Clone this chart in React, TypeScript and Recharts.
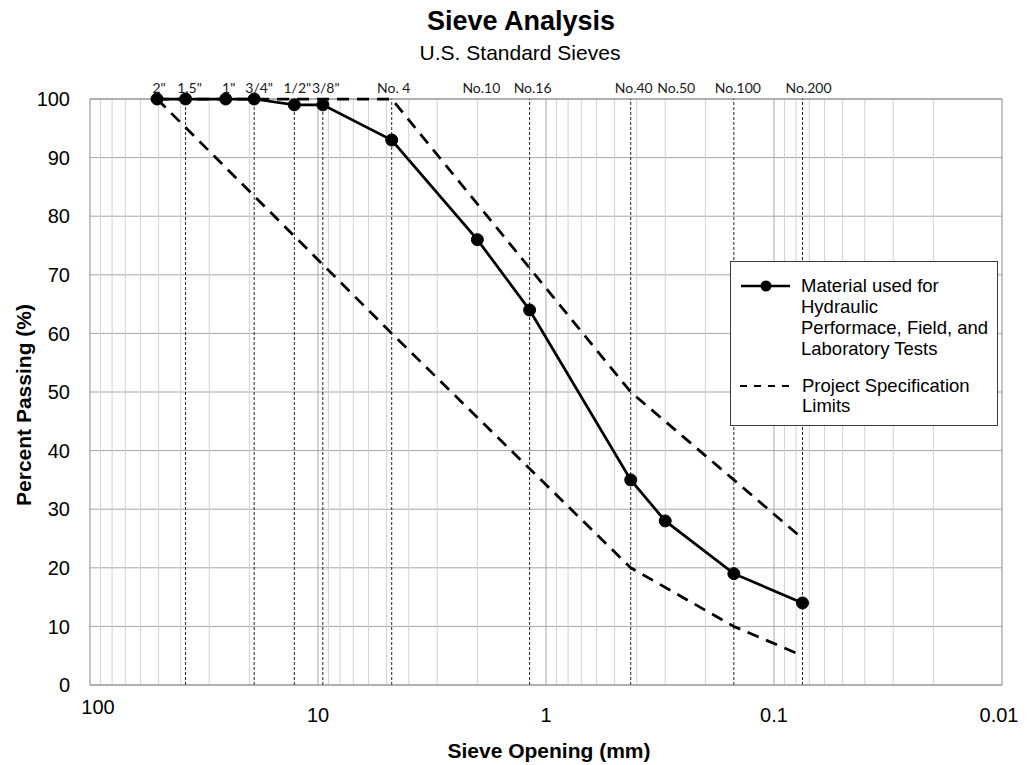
import React from 'react';
import { LineChart, Line, XAxis, YAxis, CartesianGrid, ReferenceLine } from 'recharts';

const SIEVE_NAMES = ['2"', '1.5"', '1"', '3/4"', '1/2"', '3/8"', 'No. 4', 'No.10', 'No.16', 'No.40', 'No.50', 'No.100', 'No.200'];
const SIEVE_SIZES_MM = [50.8, 38.1, 25.4, 19.05, 12.7, 9.525, 4.75, 2.0, 1.18, 0.425, 0.3, 0.15, 0.075];
const MATERIAL_PASSING = [100, 100, 100, 100, 99, 99, 93, 76, 64, 35, 28, 19, 14];
const SPEC_UPPER: (number | null)[] = [100, null, null, null, null, null, 100, null, null, 50, null, 35, 25];
const SPEC_LOWER: (number | null)[] = [100, null, null, null, null, null, 60, null, null, 20, null, 10, 5];
const SIEVES_WITH_LINES = ['1.5"', '3/4"', '1/2"', '3/8"', 'No. 4', 'No.16', 'No.40', 'No.100', 'No.200'];

const X_TICKS = [100, 10, 1, 0.1, 0.01];
const Y_TICKS = [0, 10, 20, 30, 40, 50, 60, 70, 80, 90, 100];
const GRID_MAJOR = [10, 1, 0.1];
const GRID_DECADES = [10, 1, 0.1, 0.01];
const GRID_MULTIPLIERS = [2, 3, 4, 5, 6, 7, 8, 9];

const MATERIAL_LABEL = ['Material used for', 'Hydraulic', 'Performace, Field, and', 'Laboratory Tests'];
const SPEC_LABEL = ['Project Specification', 'Limits'];

const data = SIEVE_SIZES_MM.map((size, i) => ({
  size,
  name: SIEVE_NAMES[i],
  material: MATERIAL_PASSING[i],
  upper: SPEC_UPPER[i],
  lower: SPEC_LOWER[i],
}));

const minorGrid: number[] = [];
GRID_DECADES.forEach((d) => GRID_MULTIPLIERS.forEach((m) => minorGrid.push(+(d * m).toPrecision(3))));

const LABEL_DX: Record<string, number> = {
  '2"': 2, '1.5"': 4, '1"': 3, '3/4"': 5, '1/2"': 3, '3/8"': 3, 'No. 4': 2,
  'No.10': 4, 'No.16': 3, 'No.40': 3, 'No.50': 11, 'No.100': 4, 'No.200': 6,
};

const ARIAL = '"Liberation Sans", Arial, sans-serif';

const XTick = (props: any) => {
  const { x, y, payload } = props;
  const v = payload.value;
  const dx = v === 100 ? 8 : v === 0.01 ? -3 : 0;
  const dy = v === 100 ? -8 : 0;
  return (
    <text x={x + dx} y={y + dy} dy="0.71em" textAnchor="middle" fontFamily={ARIAL} fontSize={20} fill="#000">
      {String(v)}
    </text>
  );
};

const LegendBox = () => (
  <svg width={268} height={165} style={{ display: 'block' }}>
    <rect x={0.5} y={0.5} width={267} height={164} fill="#fff" stroke="#3a3a3a" strokeWidth={1} />
    <line x1={11} y1={25} x2={60} y2={25} stroke="#000" strokeWidth={2.5} />
    <circle cx={36} cy={25} r={5.5} fill="#000" />
    {MATERIAL_LABEL.map((t, i) => (
      <text key={t} x={71} y={30.5 + i * 21} fontFamily={ARIAL} fontSize={18.5} fill="#000">{t}</text>
    ))}
    <line x1={10} y1={125} x2={60} y2={125} stroke="#000" strokeWidth={2} strokeDasharray="7 7" />
    {SPEC_LABEL.map((t, i) => (
      <text key={t} x={72} y={130.5 + i * 20} fontFamily={ARIAL} fontSize={18.5} fill="#000">{t}</text>
    ))}
  </svg>
);

export default function App() {
  return (
    <div style={{ position: 'absolute', left: 0, top: 0, width: 1031, height: 765, background: '#fff' }}>
      <LineChart width={1031} height={765} data={data} margin={{ top: 99, right: 29, bottom: 0, left: 0 }}>
        <text x={521} y={29.5} textAnchor="middle" fontFamily={ARIAL} fontWeight="bold" fontSize={27} fill="#000">Sieve Analysis</text>
        <text x={520} y={60} textAnchor="middle" fontFamily={ARIAL} fontSize={21} fill="#000">U.S. Standard Sieves</text>
        <CartesianGrid horizontal vertical={false} stroke="#a6a6a6" strokeWidth={1} />
        {minorGrid.map((v) => (
          <ReferenceLine key={'m' + v} x={v} stroke="#d2d2d2" strokeWidth={1} />
        ))}
        {GRID_MAJOR.map((v) => (
          <ReferenceLine key={'M' + v} x={v} stroke="#a6a6a6" strokeWidth={1} />
        ))}
        <ReferenceLine x={0.01} stroke="#8c8c8c" strokeWidth={1} />
        <ReferenceLine y={100} stroke="#8c8c8c" strokeWidth={1} />
        {data.map((d) => (
          <ReferenceLine
            key={'s' + d.name}
            x={d.size}
            stroke={SIEVES_WITH_LINES.includes(d.name) ? '#222' : 'none'}
            strokeWidth={1}
            strokeDasharray="3 2"
            label={{
              value: d.name,
              position: 'top',
              offset: 6,
              dx: LABEL_DX[d.name] || 0,
              fontFamily: 'Lato, "Open Sans", sans-serif',
              fontSize: 14,
              fill: '#1a1a1a',
            }}
          />
        ))}
        <XAxis
          dataKey="size"
          type="number"
          scale="log"
          domain={[0.01, 100]}
          reversed
          allowDataOverflow
          ticks={X_TICKS}
          interval={0}
          height={80}
          tickSize={0}
          tickMargin={23}
          tick={<XTick />}
          axisLine={{ stroke: '#8c8c8c' }}
          tickLine={false}
          label={{
            content: () => (
              <text x={549} y={758} textAnchor="middle" fontFamily={ARIAL} fontWeight="bold" fontSize={21} fill="#000">
                Sieve Opening (mm)
              </text>
            ),
          }}
        />
        <YAxis
          type="number"
          domain={[0, 100]}
          ticks={Y_TICKS}
          interval={0}
          width={90}
          tickSize={0}
          tickMargin={20}
          tick={{ fontFamily: ARIAL, fontSize: 20, fill: '#000' }}
          axisLine={{ stroke: '#8c8c8c' }}
          tickLine={false}
          label={{
            content: () => (
              <text
                x={31}
                y={405}
                transform="rotate(-90 31 405)"
                textAnchor="middle"
                fontFamily={ARIAL}
                fontWeight="bold"
                fontSize={21}
                fill="#000"
              >
                Percent Passing (%)
              </text>
            ),
          }}
        />
        <Line
          dataKey="upper"
          name="Project Specification Limits"
          stroke="#000"
          strokeWidth={2.75}
          strokeDasharray="12 8"
          dot={false}
          connectNulls
          isAnimationActive={false}
        />
        <Line
          dataKey="lower"
          name="Project Specification Limits (lower)"
          stroke="#000"
          strokeWidth={2.75}
          strokeDasharray="12 8"
          dot={false}
          connectNulls
          isAnimationActive={false}
        />
        <Line
          dataKey="material"
          name="Material used for Hydraulic Performace, Field, and Laboratory Tests"
          stroke="#000"
          strokeWidth={2.75}
          dot={{ r: 6, fill: '#000', stroke: '#000', strokeWidth: 1 }}
          isAnimationActive={false}
        />
      </LineChart>
      <div style={{ position: 'absolute', left: 730, top: 261, width: 268, height: 165 }}>
        <LegendBox />
      </div>
    </div>
  );
}
